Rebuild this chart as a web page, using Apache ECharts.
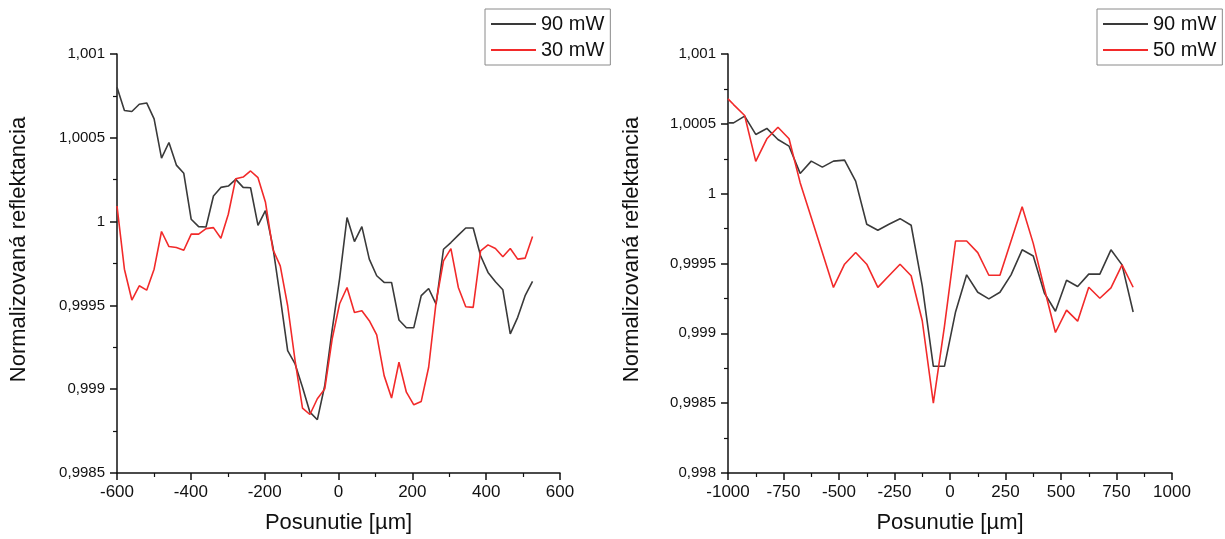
<!DOCTYPE html>
<html>
<head>
<meta charset="utf-8">
<script src="https://cdn.jsdelivr.net/npm/echarts@6/dist/echarts.min.js"></script>
<style>
html,body{margin:0;padding:0;background:#fff;}
#c{width:1225px;height:539px;}
</style>
</head>
<body>
<div id="c"></div>
<script>
// ---- Left chart data ----
var leftX = [-600,-579.9,-559.8,-539.7,-519.6,-499.5,-479.4,-459.3,-439.2,-419.1,-399,-378.9,-358.8,-338.7,-318.6,-298.5,-278.4,-258.3,-238.2,-218.1,-198,-177.9,-157.8,-137.7,-117.6,-97.5,-77.4,-57.3,-37.2,-17.1,3,23.1,43.2,63.3,83.4,103.5,123.6,143.7,163.8,183.9,204,224.1,244.2,264.3,284.4,304.5,324.6,344.7,364.8,384.9,405,425.1,445.2,465.3,485.4,505.5,525.6];
var left90 = [1.000802,1.000663,1.000657,1.000700,1.000708,1.000613,1.000379,1.000472,1.000337,1.000288,1.000014,0.999970,0.999968,1.000153,1.000204,1.000212,1.000252,1.000204,1.000202,0.999978,1.000066,0.999852,0.999548,0.999230,0.999151,0.999012,0.998863,0.998818,0.999022,0.999355,0.999660,1.000024,0.999881,0.999970,0.999776,0.999677,0.999637,0.999637,0.999413,0.999367,0.999367,0.999558,0.999601,0.999508,0.999835,0.999875,0.999919,0.999962,0.999962,0.999796,0.999697,0.999641,0.999593,0.999330,0.999429,0.999558,0.999643];
var left30 = [1.000093,0.999716,0.999532,0.999617,0.999591,0.999716,0.999941,0.999851,0.999845,0.999829,0.999925,0.999925,0.999958,0.999964,0.999901,1.000044,1.000256,1.000266,1.000302,1.000262,1.000117,0.999835,0.999736,0.999498,0.999170,0.998887,0.998849,0.998943,0.999002,0.999300,0.999510,0.999607,0.999458,0.999468,0.999409,0.999324,0.999081,0.998947,0.999161,0.998982,0.998907,0.998927,0.999131,0.999518,0.999766,0.999839,0.999607,0.999492,0.999488,0.999825,0.999861,0.999839,0.999790,0.999839,0.999776,0.999782,0.999911];

// ---- Right chart data ----
var rightX = [-1000,-975,-925,-875,-825,-775,-725,-675,-625,-575,-525,-475,-425,-375,-325,-275,-225,-175,-125,-75,-25,25,75,125,175,225,275,325,375,425,475,525,575,625,675,725,775,825];
var right90 = [1.000507,1.000507,1.000555,1.000424,1.000467,1.000388,1.000340,1.000145,1.000233,1.000190,1.000233,1.000240,1.000090,0.999781,0.999738,0.999781,0.999821,0.999774,0.999340,0.998764,0.998764,0.999153,0.999419,0.999294,0.999247,0.999294,0.999419,0.999598,0.999554,0.999289,0.999158,0.999380,0.999335,0.999424,0.999424,0.999598,0.999490,0.999153];
var right50 = [1.000679,1.000638,1.000560,1.000231,1.000393,1.000476,1.000393,1.000079,0.999829,0.999579,0.999329,0.999495,0.999579,0.999495,0.999329,0.999412,0.999495,0.999412,0.999090,0.998500,0.999050,0.999661,0.999661,0.999578,0.999416,0.999416,0.999661,0.999907,0.999644,0.999321,0.999006,0.999166,0.999087,0.999330,0.999251,0.999325,0.999490,0.999330];

var names = ['90 mW','30 mW','50 mW'];
var xTitle = 'Posunutie [µm]';
var yTitle = 'Normalizovaná reflektancia';

function pairs(xs, ys){ return xs.map(function(x,i){ return [x, ys[i]]; }); }
var FONT = '"Liberation Sans", Arial, sans-serif';
var BLACK = '#3a3a3a', RED = '#f22a2a';

function yFmt(v){ return parseFloat(v.toFixed(6)).toString().replace('.', ','); }
function xFmt(v){ return String(Math.round(v)); }

function xAxisCfg(idx, min, max, interval){
  return {
    type:'value', gridIndex: idx, min:min, max:max, interval:interval,
    name: xTitle, nameLocation:'middle', nameGap:39,
    nameTextStyle:{fontFamily:FONT, fontSize:22, color:'#111'},
    axisLine:{show:true, onZero:false, lineStyle:{color:'#111', width:1.5}},
    axisTick:{show:true, length:7, lineStyle:{color:'#111', width:1.5}},
    minorTick:{show:true, splitNumber:2, length:4, lineStyle:{color:'#111', width:1.2}},
    splitLine:{show:false},
    axisLabel:{fontFamily:FONT, fontSize:17, color:'#111', margin:11, formatter:xFmt}
  };
}
function yAxisCfg(idx, min, max, gap){
  return {
    type:'value', gridIndex: idx, min:min, max:max, interval:0.0005,
    name: yTitle, nameLocation:'middle', nameGap:gap, nameRotate:90,
    nameTextStyle:{fontFamily:FONT, fontSize:22, color:'#111', padding:[0,0,0,28]},
    axisLine:{show:true, onZero:false, lineStyle:{color:'#111', width:1.5}},
    axisTick:{show:true, length:7, lineStyle:{color:'#111', width:1.5}},
    minorTick:{show:true, splitNumber:2, length:4, lineStyle:{color:'#111', width:1.2}},
    splitLine:{show:false},
    axisLabel:{fontFamily:FONT, fontSize:15, color:'#111', margin:12, formatter:yFmt}
  };
}
function legendCfg(left, data){
  return {
    left:left, top:9, orient:'vertical', data:data,
    icon:'rect',
    backgroundColor:'#fff', borderColor:'#8a8a8a', borderWidth:1, borderRadius:0,
    padding:[5,6,5,6], itemGap:6, itemWidth:45, itemHeight:2,
    textStyle:{fontFamily:FONT, fontSize:20, color:'#111', lineHeight:20},
    selectedMode:false
  };
}
function lineSeries(name, xi, data, color){
  return {
    type:'line', name:name, xAxisIndex:xi, yAxisIndex:xi, data:data,
    symbol:'none', showSymbol:false, lineStyle:{color:color, width:1.6}, itemStyle:{color:color},
    emphasis:{disabled:true}, z: color===RED ? 3 : 2
  };
}

var chart = echarts.init(document.getElementById('c'));
chart.setOption({
  animation:false,
  backgroundColor:'#fff',
  grid:[
    {left:117, right:665, top:54, bottom:65},
    {left:728, right:53, top:54, bottom:65}
  ],
  legend:[ legendCfg(485, [names[0], names[1]]), legendCfg(1097, [names[0], names[2]]) ],
  xAxis:[ xAxisCfg(0, -600, 600, 200), xAxisCfg(1, -1000, 1000, 250) ],
  yAxis:[ yAxisCfg(0, 0.9985, 1.001, 87), yAxisCfg(1, 0.998, 1.001, 85) ],
  series:[
    lineSeries(names[0], 0, pairs(leftX, left90), BLACK),
    lineSeries(names[1], 0, pairs(leftX, left30), RED),
    lineSeries(names[0], 1, pairs(rightX, right90), BLACK),
    lineSeries(names[2], 1, pairs(rightX, right50), RED)
  ]
});
</script>
</body>
</html>
